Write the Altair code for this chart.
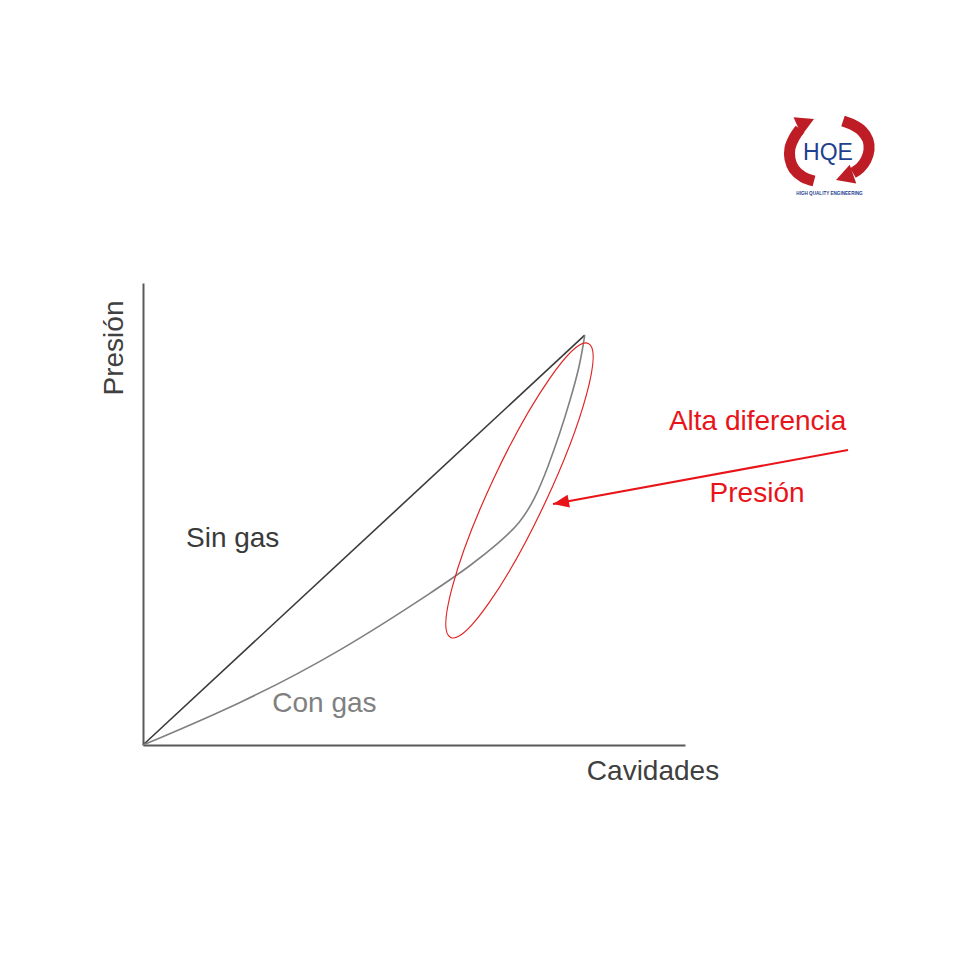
import altair as alt
import pandas as pd

# ---- data (chart units: Cavidades 0-100 along x, Presión 0-100 along y) ----
sin_x = [0, 81.5]
sin_y = [0, 88.7]
con_x = [0, 17.90, 36.35, 54.80, 60.33, 65.87, 69.56, 72.32, 74.72, 76.94, 78.78, 80.63, 81.5]
con_y = [0, 8.87, 20.13, 34.20, 38.74, 43.94, 48.05, 53.25, 60.17, 67.53, 74.46, 82.25, 88.7]

ellipse_x = [69.46]
ellipse_y = [55.09]

arrow_x = [130.07, 75.65]
arrow_y = [63.85, 52.16]

label_text = ["Sin gas", "Con gas"]
label_x = [7.93, 23.85]
label_y = [42.86, 7.21]

note_text = ["Alta diferencia", "Presión"]
note_x = [113.4, 113.3]
note_y = [68.18, 52.6]

# logo
logo_left_x = [123.80, 121.77, 120.11, 119.37, 119.37, 120.11, 121.22]
logo_left_y = [122.08, 122.94, 124.68, 126.84, 129.22, 131.39, 133.33]
logo_right_x = [129.15, 131.00, 132.66, 133.76, 133.95, 133.39, 132.29, 130.99]
logo_right_y = [135.06, 134.20, 132.90, 130.95, 128.79, 126.62, 124.89, 123.81]
logo_tip_x = [123.80, 127.86]
logo_tip_y = [135.50, 122.29]
logo_tip_angle = [155.8, 340.7]
logo_text = ["HQE", "HIGH QUALITY ENGINEERING"]
logo_text_x = [126.38, 126.66]
logo_text_y = [126.62, 119.05]

FONT = "Liberation Sans"
RED = "#e8141a"

xs = alt.Scale(domain=[0, 100], nice=False, zero=False)
ys = alt.Scale(domain=[0, 100], nice=False, zero=False)

x_axis = alt.Axis(
    title="Cavidades", ticks=False, labels=False, grid=False,
    domainColor="#5a5a5a", domainWidth=2,
    titleX=509.5, titleY=34, titleAlign="center", titleBaseline="alphabetic",
    titleFont=FONT, titleFontSize=28, titleFontWeight="normal", titleColor="#404040",
)
y_axis = alt.Axis(
    title="Presión", ticks=False, labels=False, grid=False,
    domainColor="#5a5a5a", domainWidth=2,
    titleX=-21, titleY=64.5, titleAngle=270, titleAlign="center", titleBaseline="alphabetic",
    titleFont=FONT, titleFontSize=28, titleFontWeight="normal", titleColor="#404040",
)


def X():
    return alt.X("x:Q", scale=xs, axis=x_axis)


def Y():
    return alt.Y("y:Q", scale=ys, axis=y_axis)


sin_df = pd.DataFrame({"x": sin_x, "y": sin_y})
con_df = pd.DataFrame({"x": con_x, "y": con_y, "o": range(len(con_x))})

sin_layer = alt.Chart(sin_df).mark_line(color="#3a3a3a", strokeWidth=1.6).encode(
    x=X(), y=Y())
con_layer = alt.Chart(con_df).mark_line(color="#808080", strokeWidth=1.6, interpolate="basis").encode(
    x=X(), y=Y(), order="o:Q")

ellipse_path = "M0,-1A0.175,1,0,1,0,0,1A0.175,1,0,1,0,0,-1Z"
ell_layer = alt.Chart(pd.DataFrame({"x": ellipse_x, "y": ellipse_y})).mark_point(
    shape=ellipse_path, size=105365, filled=False, stroke="#e02424", strokeWidth=1.2,
    angle=25.1, opacity=1).encode(x=X(), y=Y())

arrow_df = pd.DataFrame({"x": arrow_x, "y": arrow_y, "o": [0, 1]})
arrow_line = alt.Chart(arrow_df).mark_line(color=RED, strokeWidth=2).encode(
    x=X(), y=Y(), order="o:Q")
head_path = "M0,0L2,-0.8L2,0.8Z"
arrow_head = alt.Chart(pd.DataFrame({"x": arrow_x[1:], "y": arrow_y[1:]})).mark_point(
    shape=head_path, size=256, filled=True, color=RED, opacity=1, angle=349.6,
    strokeWidth=0).encode(x=X(), y=Y())

labels = alt.Chart(pd.DataFrame({"x": label_x, "y": label_y, "t": label_text,
                                 "c": ["#3a3a3a", "#808080"]})).mark_text(
    font=FONT, fontSize=28, align="left", baseline="alphabetic").encode(
    x=X(), y=Y(), text="t:N", color=alt.Color("c:N", scale=None))

notes = alt.Chart(pd.DataFrame({"x": note_x, "y": note_y, "t": note_text})).mark_text(
    font=FONT, fontSize=28, align="center", baseline="alphabetic", color=RED).encode(
    x=X(), y=Y(), text="t:N")

# logo
logo_df = pd.DataFrame({
    "x": logo_left_x + logo_right_x,
    "y": logo_left_y + logo_right_y,
    "g": ["L"] * len(logo_left_x) + ["R"] * len(logo_right_x),
    "o": list(range(len(logo_left_x))) + list(range(len(logo_right_x))),
})
LOGO_RED = "#bf1d25"
logo_arcs = alt.Chart(logo_df).mark_line(color=LOGO_RED, strokeWidth=11, interpolate="catmull-rom",
                                         strokeCap="butt").encode(
    x=X(), y=Y(), detail="g:N", order="o:Q")
logo_heads = alt.Chart(pd.DataFrame({"x": logo_tip_x, "y": logo_tip_y, "a": logo_tip_angle})).mark_point(
    shape="M0,0L2,-1.1L2,1.1Z", size=324, filled=True, color=LOGO_RED, opacity=1, strokeWidth=0).encode(
    x=X(), y=Y(), angle=alt.Angle("a:Q", scale=None))
logo_hqe = alt.Chart(pd.DataFrame({"x": logo_text_x[:1], "y": logo_text_y[:1], "t": logo_text[:1]})).mark_text(
    font=FONT, fontSize=23, align="center", baseline="alphabetic", color="#1f3f8f").encode(
    x=X(), y=Y(), text="t:N")
logo_tag = alt.Chart(pd.DataFrame({"x": logo_text_x[1:], "y": logo_text_y[1:], "t": logo_text[1:]})).mark_text(
    font=FONT, fontSize=4.6, fontWeight="bold", align="center", baseline="alphabetic", color="#1f3f8f").encode(
    x=X(), y=Y(), text="t:N")

chart = alt.layer(
    sin_layer, con_layer, ell_layer, arrow_line, arrow_head, labels, notes,
    logo_arcs, logo_heads, logo_hqe, logo_tag,
).properties(
    width=542, height=462,
    padding={"left": 135, "top": 275, "right": 267, "bottom": 207},
    autosize=alt.AutoSizeParams(type="none"),
    background="white",
).configure_view(stroke=None)

chart.save("out.html", embed_options={"renderer": "svg", "actions": False})
